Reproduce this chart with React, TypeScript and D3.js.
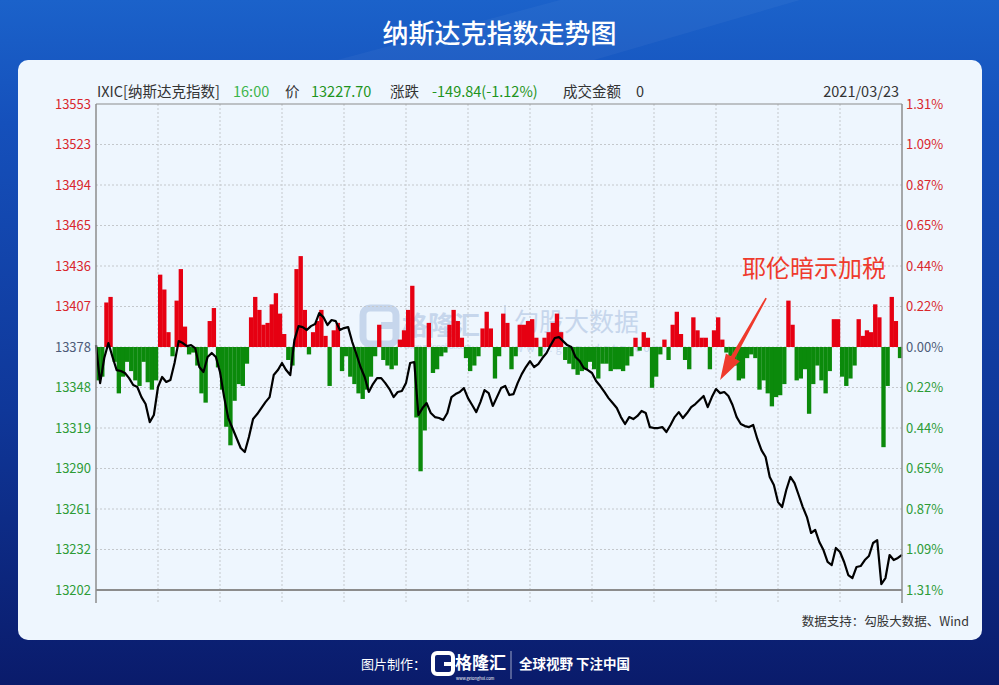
import React from "react";
import * as d3 from "d3";

// 昨收
const prevClose = 13377.54;

// 每两分钟一个收盘价（09:30 - 16:00）
const closes = [
  13378.9, 13351.5, 13369.6, 13380.4, 13370.3, 13360.9, 13360.2, 13358.8, 13355.1, 13350.1,
  13348.7, 13341.4, 13336.4, 13323.4, 13328.5, 13348.7, 13355.9, 13352.3, 13353.7, 13366.0,
  13381.8, 13380.4, 13378.2, 13378.9, 13376.8, 13363.1, 13359.5, 13370.3, 13373.2, 13370.3,
  13359.5, 13341.4, 13326.3, 13319.1, 13311.9, 13304.7, 13301.8, 13312.6, 13325.6, 13329.2,
  13333.5, 13337.8, 13341.4, 13357.3, 13360.9, 13366.0, 13360.9, 13357.3, 13382.5, 13392.6,
  13391.9, 13389.8, 13392.6, 13394.1, 13402.0, 13399.1, 13393.4, 13397.0, 13396.2, 13389.8,
  13391.2, 13391.9, 13381.1, 13372.5, 13363.1, 13355.9, 13345.1, 13350.8, 13355.1, 13355.1,
  13351.5, 13347.2, 13341.4, 13345.1, 13345.8, 13351.5, 13366.0, 13366.7, 13328.5, 13333.5,
  13337.1, 13329.9, 13327.0, 13326.3, 13324.9, 13329.9, 13341.4, 13343.6, 13345.1, 13347.9,
  13340.7, 13335.7, 13330.6, 13337.8, 13346.5, 13344.3, 13335.0, 13341.4, 13347.9, 13349.4,
  13342.9, 13343.6, 13351.5, 13358.0, 13363.1, 13367.4, 13363.1, 13365.2, 13369.6, 13373.2,
  13378.9, 13384.0, 13384.7, 13381.8, 13378.9, 13377.5, 13370.3, 13367.4, 13362.4, 13360.9,
  13358.8, 13353.0, 13349.4, 13345.1, 13340.7, 13337.1, 13333.5, 13327.0, 13322.0, 13327.0,
  13325.6, 13327.8, 13331.4, 13329.9, 13319.8, 13319.1, 13319.1, 13319.8, 13316.2, 13321.3,
  13327.0, 13330.6, 13326.3, 13329.9, 13334.2, 13336.4, 13339.3, 13342.2, 13334.2, 13341.4,
  13347.2, 13344.3, 13345.1, 13342.2, 13335.7, 13327.0, 13322.0, 13320.5, 13319.8, 13321.3,
  13311.2, 13303.2, 13298.2, 13283.8, 13278.0, 13265.7, 13262.1, 13274.4, 13283.8, 13279.4,
  13270.8, 13262.1, 13254.9, 13243.4, 13245.6, 13236.9, 13231.1, 13222.5, 13220.3, 13232.6,
  13229.7, 13222.5, 13213.1, 13210.9, 13218.9, 13219.6, 13223.9, 13226.8, 13236.2, 13238.3,
  13206.6, 13210.9, 13227.5, 13223.9, 13225.4, 13227.7,
];

// 红绿柱（%）
const flows = [
  -0.18, -0.16, 0.24, 0.27, -0.08, -0.25, -0.16, -0.08, -0.13, -0.18,
  -0.21, -0.08, -0.19, -0.23, -0.18, 0.39, 0.31, 0.08, -0.05, 0.25,
  0.42, 0.11, -0.04, -0.03, -0.1, -0.25, -0.3, 0.14, 0.21, -0.11,
  -0.23, -0.43, -0.53, -0.29, -0.2, -0.21, -0.09, 0.16, 0.27, 0.2,
  0.12, 0.13, 0.23, 0.29, 0.18, 0.07, -0.07, -0.1, 0.42, 0.49,
  0.2, -0.04, 0.08, 0.14, 0.2, 0.06, -0.21, 0.09, 0.13, -0.13,
  -0.05, -0.16, -0.2, -0.25, -0.28, -0.23, -0.16, -0.05, 0.12, -0.07,
  -0.1, -0.12, -0.1, 0.04, 0.09, 0.2, 0.33, -0.38, -0.67, -0.45,
  0.13, -0.14, -0.12, -0.05, -0.03, 0.12, 0.2, 0.14, 0.05, -0.06,
  -0.13, -0.1, -0.05, 0.1, 0.19, 0.1, -0.17, -0.05, 0.18, 0.13,
  -0.12, -0.05, 0.12, 0.12, 0.14, 0.15, 0.05, -0.05, 0.05, 0.08,
  0.13, 0.18, 0.08, -0.07, -0.09, -0.12, -0.15, -0.13, -0.12, -0.08,
  -0.12, -0.17, -0.09, -0.09, -0.13, -0.12, -0.12, -0.13, -0.1, -0.05,
  0.05, -0.02, 0.08, 0.05, -0.22, -0.16, -0.04, 0.04, -0.07, 0.12,
  0.19, 0.07, -0.07, -0.12, 0.16, 0.09, 0.05, 0.05, -0.12, 0.09,
  0.16, 0.04, -0.03, -0.05, -0.1, -0.18, -0.17, -0.06, -0.04, -0.06,
  -0.23, -0.18, -0.25, -0.32, -0.27, -0.26, -0.2, 0.25, 0.12, -0.18,
  -0.17, -0.12, -0.36, -0.2, -0.1, -0.18, -0.25, -0.13, 0.15, 0.15,
  -0.16, -0.21, -0.17, -0.1, 0.15, 0.06, 0.09, 0.08, 0.23, 0.16,
  -0.54, -0.21, 0.27, 0.14, -0.06,
];

// 坐标轴刻度文字
const priceLabels = [
  "13553", "13523", "13494", "13465", "13436", "13407", "13378",
  "13348", "13319", "13290", "13261", "13232", "13202",
];
const pctLabels = [
  "1.31%", "1.09%", "0.87%", "0.65%", "0.44%", "0.22%", "0.00%",
  "0.22%", "0.44%", "0.65%", "0.87%", "1.09%", "1.31%",
];
const maxPct = 1.31;
const gridMinutes = [30, 60, 90, 120, 150, 180, 210, 240, 270, 300, 330, 360];

const FONT = "'Noto Sans CJK SC', 'Noto Sans', sans-serif";
const RED = "#e60012";
const GREEN = "#0b8a0b";

const App: React.FC = () => {
  const W = 999;
  const H = 685;
  const plot = { left: 96, right: 902, top: 104, bottom: 590 };

  const span = (prevClose * maxPct) / 100;
  const x = d3.scaleLinear().domain([0, 390]).range([plot.left, plot.right]);
  const y = d3
    .scaleLinear()
    .domain([prevClose - span, prevClose + span])
    .range([plot.bottom, plot.top]);
  const yb = d3
    .scaleLinear()
    .domain([-maxPct, maxPct])
    .range([plot.bottom, plot.top]);

  const minutes = closes.map((_, i) => i * 2);
  const line = d3
    .line<number>()
    .x((_, i) => x(minutes[i]))
    .y((d) => y(d));

  const tickVals = priceLabels.map((_, i) => prevClose + span - (i * span) / 6);

  // 标注箭头
  const tip: [number, number] = [x(302), y(closes[150]) - 9];
  const tail: [number, number] = [tip[0] + 46, tip[1] - 82];
  const len = Math.hypot(tail[0] - tip[0], tail[1] - tip[1]);
  const dx = (tip[0] - tail[0]) / len;
  const dy = (tip[1] - tail[1]) / len;
  const nx = -dy;
  const ny = dx;
  const base = [tip[0] - dx * 26, tip[1] - dy * 26];
  const pt = (p: number[], k: number) => `${p[0] + nx * k},${p[1] + ny * k}`;
  const arrow = [
    pt(tail, 0.8),
    pt(base, 2.2),
    pt(base, 8),
    pt(tip, 0),
    pt(base, -8),
    pt(base, -2.2),
    pt(tail, -0.8),
  ].join(" ");

  const bw = x(2) - x(0);

  return (
    <svg width={W} height={H} style={{ display: "block" }} fontFamily={FONT}>
      <style>{"body{margin:0}"}</style>
      <defs>
        <linearGradient id="bg" x1="0" y1="0" x2="0" y2="1">
          <stop offset="0" stopColor="#1b62ca" />
          <stop offset="0.18" stopColor="#1550bb" />
          <stop offset="0.6" stopColor="#0f3799" />
          <stop offset="1" stopColor="#0a1b6b" />
        </linearGradient>
      </defs>
      <rect width={W} height={H} fill="url(#bg)" />
      <polygon points="560,0 800,0 560,70 300,70" fill="#ffffff" opacity={0.04} />

      {/* 标题 */}
      <text x={W / 2} y={43} textAnchor="middle" fill="#fff" fontSize={26} fontWeight={500}>
        纳斯达克指数走势图
      </text>

      {/* 面板 */}
      <rect x={18} y={60} width={964} height={580} rx={10} fill="#eef6fe" />

      {/* 水印 */}
      <g opacity={0.75} fill="#b9cce6">
        <rect x={363} y={308} width={33} height={36} rx={7} fill="none" stroke="#b9cce6" strokeWidth={7} />
        <rect x={381} y={322} width={15} height={7} />
        <text x={402} y={335} fontSize={26} fontWeight={700}>格隆汇</text>
        <text x={404} y={349} fontSize={7}>www.gelonghui.com</text>
        <line x1={505} x2={505} y1={305} y2={345} stroke="#b9cce6" strokeWidth={1.5} />
        <text x={514} y={331} fontSize={25}>勾股大数据</text>
        <text x={515} y={352} fontSize={10} letterSpacing={3.6}>www.gogudata.com</text>
      </g>

      {/* 网格 */}
      {tickVals.slice(1, -1).map((v, i) => (
        <line
          key={`h${i}`}
          x1={plot.left}
          x2={plot.right}
          y1={y(v)}
          y2={y(v)}
          stroke="#c4c8cc"
          strokeDasharray="2,2"
        />
      ))}
      {gridMinutes.map((m) => (
        <line
          key={`v${m}`}
          x1={x(m)}
          x2={x(m)}
          y1={plot.top}
          y2={plot.bottom + 13}
          stroke="#c4c8cc"
          strokeDasharray="2,2"
        />
      ))}

      {/* 红绿柱 */}
      {flows.map((v, i) => (
        <rect
          key={`b${i}`}
          x={x(i * 2)}
          width={bw + 0.2}
          y={Math.min(yb(v), yb(0))}
          height={Math.abs(yb(v) - yb(0))}
          fill={v >= 0 ? RED : GREEN}
        />
      ))}

      {/* 价格线 */}
      <path d={line(closes) ?? ""} fill="none" stroke="#000" strokeWidth={2.2} strokeLinejoin="round" />

      {/* 边框 */}
      <line x1={plot.left} x2={plot.right} y1={plot.top} y2={plot.top} stroke="#8c8c8c" />
      <line x1={plot.left} x2={plot.right} y1={plot.bottom} y2={plot.bottom} stroke="#8c8c8c" strokeWidth={2} />
      <line x1={plot.left} x2={plot.left} y1={plot.top} y2={plot.bottom + 13} stroke="#8c8c8c" strokeWidth={1.5} />
      <line x1={plot.right} x2={plot.right} y1={plot.top} y2={plot.bottom + 13} stroke="#8c8c8c" strokeWidth={1.5} />

      {/* 左右刻度 */}
      {priceLabels.map((t, i) => (
        <text
          key={`l${i}`}
          x={91}
          y={y(tickVals[i])}
          dy="0.35em"
          textAnchor="end"
          fontSize={13}
          fill={i < 6 ? "#d9262c" : i === 6 ? "#4d5b78" : "#2d9b36"}
        >
          {t}
        </text>
      ))}
      {pctLabels.map((t, i) => (
        <text
          key={`r${i}`}
          x={906}
          y={y(tickVals[i])}
          dy="0.35em"
          fontSize={13}
          fill={i < 6 ? "#d9262c" : i === 6 ? "#4d5b78" : "#2d9b36"}
        >
          {t}
        </text>
      ))}

      {/* 行情信息 */}
      <g fontSize={14.5} fill="#333">
        <text x={97} y={97}>IXIC[纳斯达克指数]</text>
        <text x={233} y={97} fill="#3cb44b">16:00</text>
        <text x={285} y={97}>价</text>
        <text x={311} y={97} fill="#1e9420">13227.70</text>
        <text x={390} y={97}>涨跌</text>
        <text x={432} y={97} fill="#1e9420">-149.84(-1.12%)</text>
        <text x={563} y={97}>成交金额</text>
        <text x={636} y={97}>0</text>
        <text x={899} y={97} textAnchor="end">2021/03/23</text>
      </g>

      {/* 标注 */}
      <text x={742} y={277} fontSize={24} fill="#ef3a2c">耶伦暗示加税</text>
      <polygon points={arrow} fill="#ef3a2c" />

      {/* 数据来源 */}
      <text x={969} y={626} textAnchor="end" fontSize={12.5} fill="#333">
        数据支持：勾股大数据、Wind
      </text>

      {/* 页脚 */}
      <g fill="#fff">
        <text x={361} y={669} fontSize={13}>图片制作：</text>
        <rect x={433} y={653} width={20} height={21} rx={4} fill="none" stroke="#fff" strokeWidth={4} />
        <rect x={444} y={662} width={9} height={4} />
        <text x={455} y={669} fontSize={17} fontWeight={700}>格隆汇</text>
        <text x={456} y={680} fontSize={4}>www.gelonghui.com</text>
        <line x1={511} x2={511} y1={651} y2={679} stroke="#fff" strokeOpacity={0.6} />
        <text x={519} y={669} fontSize={13.5} fontWeight={700}>全球视野 下注中国</text>
      </g>
    </svg>
  );
};

export default App;
